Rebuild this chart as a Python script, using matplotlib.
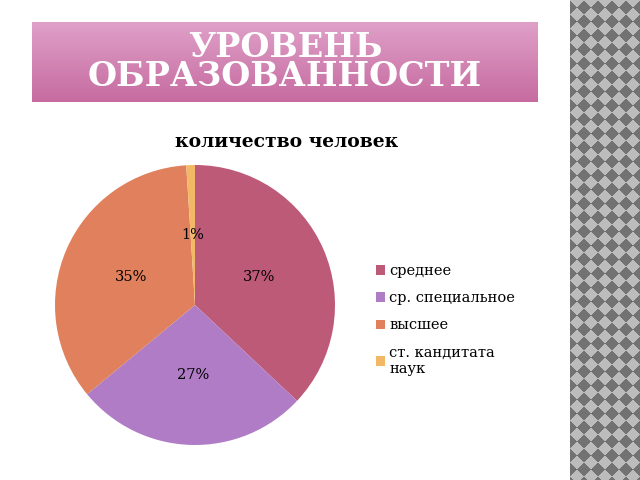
import matplotlib
matplotlib.use("Agg")
import matplotlib.pyplot as plt
import numpy as np
from matplotlib.colors import LinearSegmentedColormap

categories = ["среднее", "ср. специальное", "высшее", "ст. кандитата\nнаук"]
values = [37, 27, 35, 1]
colors = ["#bd5a78", "#b07cc6", "#e0805c", "#f2b866"]

plt.rcParams['font.family'] = ['DejaVu Serif']
fig = plt.figure(figsize=(6.4, 4.8), dpi=100)
fig.patch.set_facecolor("white")

# decorative right strip
axp = fig.add_axes([570/640, 0, 70/640, 1])
yy, xx = np.mgrid[0:480, 0:70]
pat = ((xx + yy) // 14 + (xx - yy) // 14) % 2
axp.imshow(pat, cmap="Greys", vmin=-1.5, vmax=2.5, aspect="auto", interpolation="nearest")
axp.axis("off")

# banner
axb = fig.add_axes([32/640, 1-102/480, 506/640, 80/480])
grad = np.linspace(0, 1, 100).reshape(-1, 1)
cm = LinearSegmentedColormap.from_list("b", ["#dfa0c8", "#c66ba0"])
axb.imshow(grad, cmap=cm, aspect="auto", extent=[0, 1, 0, 1])
axb.axis("off")
axb.text(0.5, 0.5, "УРОВЕНЬ\nОБРАЗОВАННОСТИ", color="white", fontsize=24,
         fontweight="bold", ha="center", va="center", linespacing=0.85)

fig.text(287/640, 1-142/480, "количество человек", fontsize=13.5, fontweight="bold",
         ha="center", va="center")

ax = fig.add_axes([55/640, 1-445/480, 280/640, 280/480])
wedges, texts, autotexts = ax.pie(values, colors=colors, startangle=90, counterclock=False,
                                  autopct="%d%%", pctdistance=0.5,
                                  wedgeprops=dict(linewidth=0),
                                  textprops=dict(fontsize=10.5))
ax.set_xlim(-1, 1)
ax.set_ylim(-1, 1)
ax.set_aspect("equal")
ax.legend(wedges, categories, loc="upper left", bbox_to_anchor=(363/640, 1-251/480),
          bbox_transform=fig.transFigure, frameon=False, fontsize=10.5,
          handlelength=0.6, handleheight=0.6, handletextpad=0.3, labelspacing=0.9)
fig.savefig("out.png", dpi=100)
